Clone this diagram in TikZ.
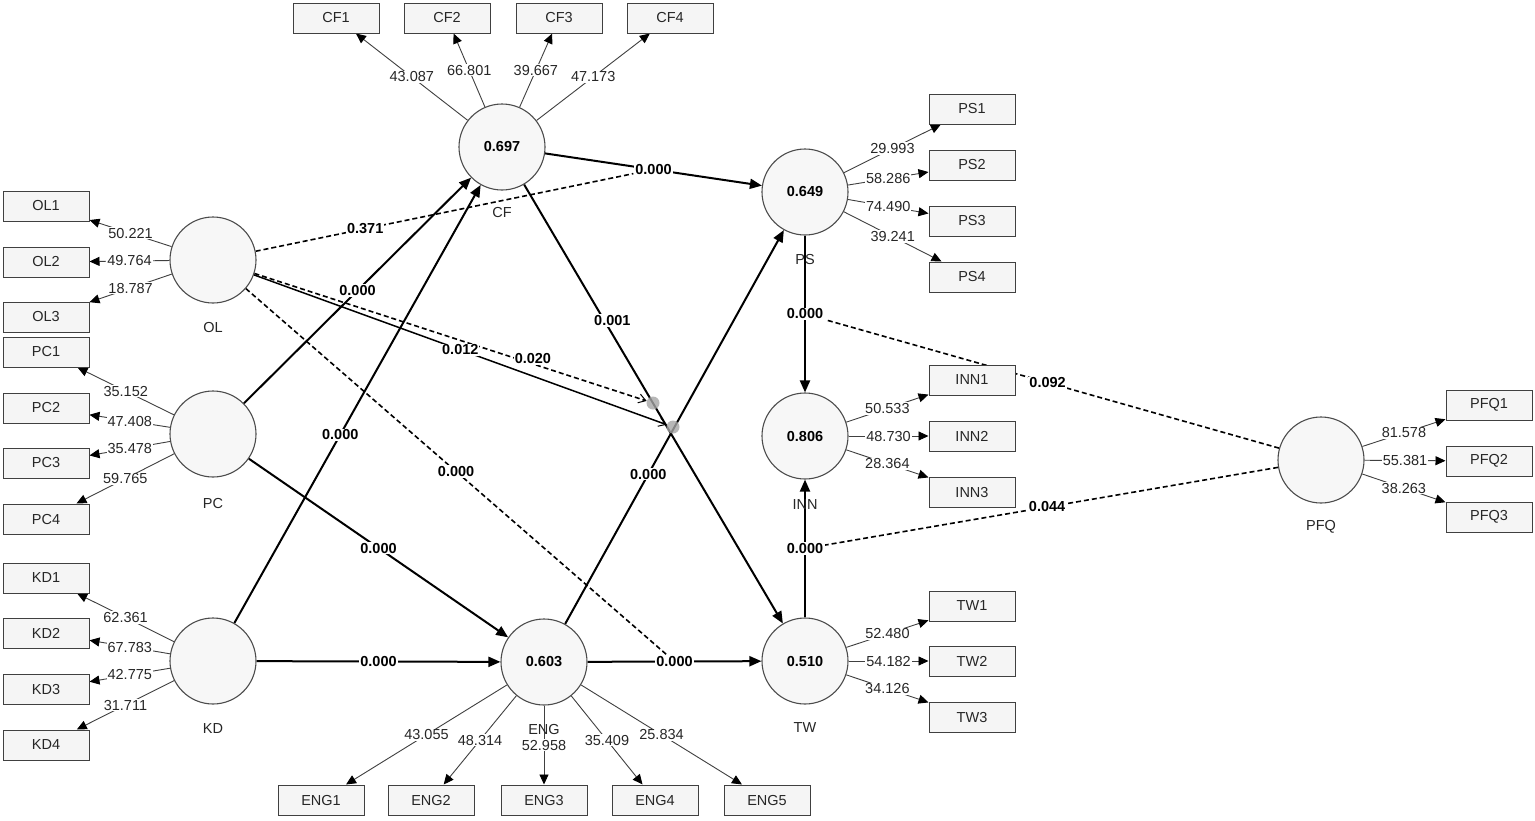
\documentclass[tikz,border=0pt]{standalone}
\usepackage{fontspec}
\setmainfont{Liberation Sans}
\usetikzlibrary{arrows.meta,backgrounds}
\begin{document}
\begin{tikzpicture}[x=1pt,y=-1pt,
  font=\fontsize{14.5}{16}\selectfont,
  lv/.style={circle,draw=black!70,fill=black!3,line width=1.1pt,minimum size=86pt,inner sep=0pt,font=\fontsize{14.5}{16}\selectfont\bfseries},
  mv/.style={rectangle,draw=black!75,fill=black!4,line width=1pt,minimum width=86pt,minimum height=30pt,inner sep=0pt,text=black!85},
  cname/.style={inner sep=0pt,text=black!85},
  ldline/.style={draw=black!75,line width=0.9pt,-{Triangle[length=10pt,width=9pt,color=black]}},
  lval/.style={fill=white,inner sep=1pt,text=black!85},
  spath/.style={draw=black,line width=2pt,-{Triangle[length=12pt,width=10pt]}},
  pval/.style={fill=white,inner sep=1pt,font=\fontsize{14.5}{16}\selectfont\bfseries},
  modline/.style={draw=black,line width=1.6pt,dash pattern=on 5pt off 3pt},
  modsolid/.style={draw=black,line width=1.5pt},
  openhead/.style={-{Straight Barb[length=7pt,width=9pt,line width=1pt]}},
  mdot/.style={circle,fill=black!35,opacity=0.8,minimum size=13pt,inner sep=0pt}
]
\useasboundingbox (0,0) rectangle (1535,820);
\begin{scope}[on background layer]
\fill[white] (0,0) rectangle (1535,820);
\end{scope}

% latent variables
\node[lv] (CF) at (502,147) {0.697};
\node[lv] (OL) at (213,260) {};
\node[lv] (PC) at (213,434) {};
\node[lv] (KD) at (213,661) {};
\node[lv] (ENG) at (544,662) {0.603};
\node[lv] (PS) at (805,192) {0.649};
\node[lv] (INN) at (805,436) {0.806};
\node[lv] (TW) at (805,661) {0.510};
\node[lv] (PFQ) at (1321,460) {};

% names
\node[cname] (nCF) at (502,213) {CF};
\node[cname] (nOL) at (213,328) {OL};
\node[cname] (nPC) at (213,503) {PC};
\node[cname] (nKD) at (213,729) {KD};
\node[cname] (nENG) at (544,729) {ENG};
\node[cname] (nPS) at (805,260) {PS};
\node[cname] (nINN) at (805,505) {INN};
\node[cname] (nTW) at (805,728) {TW};
\node[cname] (nPFQ) at (1321,527) {PFQ};

% indicators
\node[mv] (CF1) at (336,18) {CF1};
\node[mv] (CF2) at (447,18) {CF2};
\node[mv] (CF3) at (559,18) {CF3};
\node[mv] (CF4) at (670,18) {CF4};
\node[mv] (OL1) at (46,206) {OL1};
\node[mv] (OL2) at (46,262) {OL2};
\node[mv] (OL3) at (46,317) {OL3};
\node[mv] (PC1) at (46,352) {PC1};
\node[mv] (PC2) at (46,408) {PC2};
\node[mv] (PC3) at (46,463) {PC3};
\node[mv] (PC4) at (46,519) {PC4};
\node[mv] (KD1) at (46,578) {KD1};
\node[mv] (KD2) at (46,633) {KD2};
\node[mv] (KD3) at (46,689) {KD3};
\node[mv] (KD4) at (46,745) {KD4};
\node[mv] (PS1) at (972,109) {PS1};
\node[mv] (PS2) at (972,165) {PS2};
\node[mv] (PS3) at (972,221) {PS3};
\node[mv] (PS4) at (972,277) {PS4};
\node[mv] (INN1) at (972,380) {INN1};
\node[mv] (INN2) at (972,436) {INN2};
\node[mv] (INN3) at (972,492) {INN3};
\node[mv] (TW1) at (972,606) {TW1};
\node[mv] (TW2) at (972,661) {TW2};
\node[mv] (TW3) at (972,717) {TW3};
\node[mv] (PFQ1) at (1489,405) {PFQ1};
\node[mv] (PFQ2) at (1489,461) {PFQ2};
\node[mv] (PFQ3) at (1489,517) {PFQ3};
\node[mv] (ENG1) at (321,800) {ENG1};
\node[mv] (ENG2) at (431,800) {ENG2};
\node[mv] (ENG3) at (544,800) {ENG3};
\node[mv] (ENG4) at (655,800) {ENG4};
\node[mv] (ENG5) at (767,800) {ENG5};

% moderation dots
\node[mdot] (m1) at (653,403) {};
\node[mdot] (m2) at (673,427) {};

\begin{scope}[on background layer]
% loadings
\draw[ldline] (CF) -- node[lval]{43.087} (CF1);
\draw[ldline] (CF) -- node[lval]{66.801} (CF2);
\draw[ldline] (CF) -- node[lval]{39.667} (CF3);
\draw[ldline] (CF) -- node[lval]{47.173} (CF4);
\draw[ldline] (OL) -- node[lval]{50.221} (OL1);
\draw[ldline] (OL) -- node[lval]{49.764} (OL2);
\draw[ldline] (OL) -- node[lval]{18.787} (OL3);
\draw[ldline] (PC) -- node[lval]{35.152} (PC1);
\draw[ldline] (PC) -- node[lval]{47.408} (PC2);
\draw[ldline] (PC) -- node[lval]{35.478} (PC3);
\draw[ldline] (PC) -- node[lval]{59.765} (PC4);
\draw[ldline] (KD) -- node[lval]{62.361} (KD1);
\draw[ldline] (KD) -- node[lval]{67.783} (KD2);
\draw[ldline] (KD) -- node[lval]{42.775} (KD3);
\draw[ldline] (KD) -- node[lval]{31.711} (KD4);
\draw[ldline] (PS) -- node[lval]{29.993} (PS1);
\draw[ldline] (PS) -- node[lval]{58.286} (PS2);
\draw[ldline] (PS) -- node[lval]{74.490} (PS3);
\draw[ldline] (PS) -- node[lval]{39.241} (PS4);
\draw[ldline] (INN) -- node[lval]{50.533} (INN1);
\draw[ldline] (INN) -- node[lval]{48.730} (INN2);
\draw[ldline] (INN) -- node[lval]{28.364} (INN3);
\draw[ldline] (TW) -- node[lval]{52.480} (TW1);
\draw[ldline] (TW) -- node[lval]{54.182} (TW2);
\draw[ldline] (TW) -- node[lval]{34.126} (TW3);
\draw[ldline] (PFQ) -- node[lval]{81.578} (PFQ1);
\draw[ldline] (PFQ) -- node[lval]{55.381} (PFQ2);
\draw[ldline] (PFQ) -- node[lval]{38.263} (PFQ3);
\draw[ldline] (ENG) -- node[lval]{43.055} (ENG1);
\draw[ldline] (ENG) -- node[lval]{48.314} (ENG2);
\draw[ldline] (ENG) -- node[lval]{52.958} (ENG3);
\draw[ldline] (ENG) -- node[lval]{35.409} (ENG4);
\draw[ldline] (ENG) -- node[lval]{25.834} (ENG5);

% structural paths
\draw[spath] (PC) -- node[pval]{0.000} (CF);
\draw[spath] (KD) -- node[pval,pos=0.43]{0.000} (CF);
\draw[spath] (CF) -- node[pval] (lCFPS) {0.000} (PS);
\draw[spath] (CF) -- node[pval,pos=0.31,xshift=8pt]{0.001} (TW);
\draw[spath] (PC) -- node[pval]{0.000} (ENG);
\draw[spath] (KD) -- node[pval]{0.000} (ENG);
\draw[spath] (ENG) -- node[pval,pos=0.38]{0.000} (PS);
\draw[spath] (ENG) -- node[pval] (lENGTW) {0.000} (TW);
\draw[spath] (PS) -- node[pval] (lPSINN) {0.000} (INN);
\draw[spath] (TW) -- node[pval] (lTWINN) {0.000} (INN);

% moderating effects
\draw[modline] (OL) -- node[pval,pos=0.29]{0.371} (lCFPS);
\draw[modline] (OL) -- node[pval,pos=0.5]{0.000} (lENGTW);
\draw[modline,openhead] (OL) -- node[pval,pos=0.71,yshift=5pt]{0.020} (m1);
\draw[modsolid,openhead] (OL) -- node[pval,pos=0.5]{0.012} (m2);
\draw[modline] (PFQ) -- node[pval,pos=0.51]{0.092} (lPSINN);
\draw[modline] (PFQ) -- node[pval,pos=0.51]{0.044} (lTWINN);
\end{scope}
\end{tikzpicture}
\end{document}
